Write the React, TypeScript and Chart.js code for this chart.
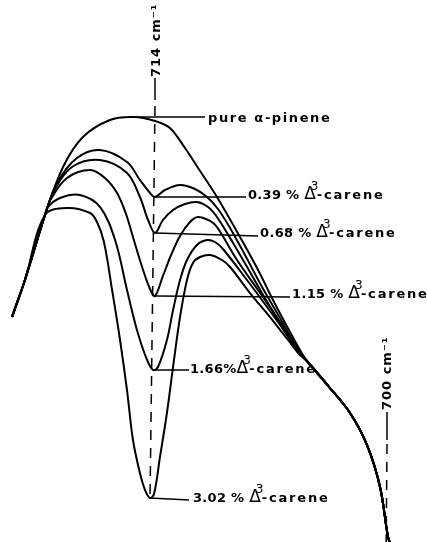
import { useEffect, useRef } from "react";
import { Chart, registerables } from "chart.js";

Chart.register(...registerables);

// x: wavenumber (cm-1), y: transmittance (arbitrary %)
const trunkWn = [722.63, 721.85, 720.64];
const trunkT = [41.51, 48.34, 60.33];
const tailWn = [704.83, 703.44, 702.23, 701.21, 700.42, 699.94, 699.76];
const tailT = [33.39, 28.41, 23.8, 17.9, 10.15, 0.92, -0.55];

const pureWn = [719.55, 718.35, 716.72, 715.33, 714.0, 713.1, 712.19, 711.28, 710.26, 708.87, 707.84, 706.88, 705.85];
const pureT = [69.19, 74.72, 77.86, 78.41, 77.68, 76.38, 72.69, 68.45, 63.65, 56.27, 50.55, 44.65, 38.75];

const c039Wn = [719.91, 718.71, 717.32, 715.69, 714.91, 714.3, 714.0, 713.4, 712.49, 711.59, 710.86, 710.2, 709.47, 708.57, 707.54, 706.46, 705.49];
const c039T = [66.24, 70.85, 72.32, 70.11, 66.79, 64.39, 63.65, 64.94, 65.87, 65.13, 63.65, 61.44, 57.93, 52.95, 47.05, 41.33, 36.16];

const c068Wn = [720.1, 719.01, 717.32, 715.69, 714.91, 714.42, 714.0, 713.52, 712.91, 712.19, 711.47, 710.8, 710.26, 709.29, 708.27, 707.3, 706.28, 705.43];
const c068T = [64.76, 69.19, 70.48, 68.08, 63.65, 59.41, 57.01, 59.41, 61.25, 62.36, 62.73, 61.81, 59.96, 55.17, 49.82, 44.65, 39.48, 35.42];

const c115Wn = [720.28, 719.31, 717.92, 717.02, 716.29, 715.75, 715.33, 714.72, 714.3, 714.0, 713.52, 713.03, 712.49, 711.89, 711.41, 710.68, 710.26, 709.05, 707.66, 706.46, 705.43];
const c115T = [63.28, 67.16, 68.63, 67.16, 64.39, 60.52, 56.27, 50.18, 46.68, 45.39, 49.08, 52.95, 56.46, 59.04, 59.96, 59.23, 58.12, 52.03, 45.94, 40.59, 35.42];

const c166Wn = [720.46, 719.73, 718.53, 717.32, 716.41, 715.69, 715.09, 714.48, 714.12, 713.82, 713.28, 712.91, 712.49, 712.07, 711.47, 710.86, 710.38, 709.9, 708.45, 707.24, 706.16, 705.37];
const c166T = [61.81, 63.47, 64.02, 61.81, 55.72, 46.49, 39.11, 33.58, 31.73, 32.29, 37.27, 42.8, 48.34, 52.03, 54.8, 55.72, 55.35, 54.06, 48.34, 43.36, 38.75, 35.06];

const c302Wn = [719.31, 717.92, 717.5, 717.08, 716.59, 716.11, 715.69, 715.33, 714.91, 714.6, 714.3, 714.06, 713.7, 713.28, 712.91, 712.49, 712.07, 711.71, 711.28, 710.68, 709.96, 709.47, 708.27, 707.06, 705.97, 705.31];
const c302T = [61.62, 60.7, 59.04, 55.35, 46.49, 37.27, 28.04, 18.82, 12.73, 9.59, 8.12, 8.86, 15.68, 23.8, 32.29, 41.51, 48.34, 51.48, 52.58, 52.95, 52.03, 50.74, 45.94, 41.51, 37.27, 34.69];

// leader lines from each curve to its label
const leaderStartWn = [715.33, 714.0, 714.0, 714.0, 714.12, 714.3];
const leaderStartT = [78.41, 63.65, 57.01, 45.39, 31.73, 8.12];
const leaderEndWn = [710.98, 708.51, 707.78, 705.85, 711.95, 711.95];
const leaderEndT = [78.41, 63.65, 56.46, 45.2, 31.73, 7.75];

// labels
const pureLabel = "pure α-pinene";
const pureLabelWn = 710.8;
const pureLabelT = 77.49;
const labelPrefix = ["0.39 % ", "0.68 % ", "1.15 % ", "1.66%", "3.02 % "];
const labelWn = [708.39, 707.66, 705.73, 711.89, 711.71];
const labelT = [63.28, 56.27, 45.02, 31.18, 7.38];

// wavenumber markers
const markerLabels = ["714 cm⁻¹", "700 cm⁻¹"];
const markerLabelWn = [713.9, 699.95];
const markerLabelT = [85.79, 24.35];
const markerSolidWn = [[714.0, 714.0], [700.0, 700.0]];
const markerSolidT = [[85.61, 81.55], [23.99, 18.82]];
const markerDashWn = [[714.0, 714.3], [700.0, 700.05]];
const markerDashT = [[80.44, 8.12], [18.08, 0.0]];

const pts = (wn: number[], t: number[]) => wn.map((x, i) => ({ x, y: t[i] }));
const curvePts = (wn: number[], t: number[]) => [
  ...pts(trunkWn, trunkT),
  ...pts(wn, t),
  ...pts(tailWn, tailT),
];

const FONT = "'DejaVu Sans'";

function drawCarene(ctx: CanvasRenderingContext2D, x: number, y: number, prefix: string) {
  ctx.letterSpacing = "0.3px";
  ctx.font = `bold 13px ${FONT}`;
  ctx.fillText(prefix, x, y);
  let cx = x + ctx.measureText(prefix).width;
  ctx.letterSpacing = "0px";
  ctx.font = `17px ${FONT}`;
  ctx.fillText("Δ", cx, y);
  const tw = ctx.measureText("Δ").width;
  ctx.font = `12px ${FONT}`;
  ctx.fillText("3", cx + tw - 5, y - 9);
  cx += tw + 1;
  ctx.font = `bold 13px ${FONT}`;
  ctx.letterSpacing = "1.8px";
  ctx.fillText("-carene", cx, y);
  ctx.letterSpacing = "0px";
}

const labelPlugin = {
  id: "labels",
  afterDatasetsDraw(chart: any) {
    const ctx: CanvasRenderingContext2D = chart.ctx;
    const xs = chart.scales.x;
    const ys = chart.scales.y;
    ctx.save();
    ctx.fillStyle = "#000";
    ctx.textAlign = "left";
    ctx.textBaseline = "alphabetic";
    ctx.font = `bold 13px ${FONT}`;
    ctx.letterSpacing = "1.6px";
    ctx.fillText(pureLabel, xs.getPixelForValue(pureLabelWn), ys.getPixelForValue(pureLabelT));
    labelPrefix.forEach((p, i) => {
      drawCarene(ctx, xs.getPixelForValue(labelWn[i]), ys.getPixelForValue(labelT[i]), p);
    });
    markerLabels.forEach((m, i) => {
      ctx.save();
      ctx.translate(xs.getPixelForValue(markerLabelWn[i]), ys.getPixelForValue(markerLabelT[i]));
      ctx.rotate(-Math.PI / 2);
      ctx.textBaseline = "middle";
      ctx.font = `bold 13px ${FONT}`;
      ctx.letterSpacing = "1px";
      ctx.fillText(m, 0, 0);
      ctx.restore();
    });
    ctx.restore();
  },
};

export default function App() {
  const ref = useRef<HTMLCanvasElement>(null);
  useEffect(() => {
    if (!ref.current) return;
    const curve = (data: any[]) => ({
      data,
      borderColor: "#000",
      borderWidth: 2,
      pointRadius: 0,
      fill: false,
      tension: 0.35,
    });
    const straight = (data: any[], width: number, dash?: number[]) => ({
      data,
      borderColor: "#000",
      borderWidth: width,
      pointRadius: 0,
      fill: false,
      tension: 0,
      borderDash: dash || [],
    });
    const datasets: any[] = [
      curve(curvePts(pureWn, pureT)),
      curve(curvePts(c039Wn, c039T)),
      curve(curvePts(c068Wn, c068T)),
      curve(curvePts(c115Wn, c115T)),
      curve(curvePts(c166Wn, c166T)),
      curve(curvePts(c302Wn, c302T)),
    ];
    leaderStartWn.forEach((w, i) => {
      datasets.push(
        straight(
          [
            { x: w, y: leaderStartT[i] },
            { x: leaderEndWn[i], y: leaderEndT[i] },
          ],
          1.5
        )
      );
    });
    markerSolidWn.forEach((w, i) => {
      datasets.push(straight(pts(w, markerSolidT[i]), 1.5));
      datasets.push(straight(pts(markerDashWn[i], markerDashT[i]), 1.5, [10, 8]));
    });
    const chart = new Chart(ref.current, {
      type: "line",
      data: { datasets },
      options: {
        animation: false,
        responsive: false,
        devicePixelRatio: 1,
        events: [],
        layout: { padding: 0 },
        plugins: { legend: { display: false }, tooltip: { enabled: false } },
        scales: {
          x: { type: "linear", min: 697.586, max: 723.354, reverse: true, display: false },
          y: { type: "linear", min: 0, max: 100, display: false },
        },
      },
      plugins: [labelPlugin],
    });
    return () => chart.destroy();
  }, []);
  return (
    <div style={{ position: "fixed", left: 0, top: 0, width: 427, height: 542, background: "#fff" }}>
      <canvas ref={ref} width={427} height={542} style={{ display: "block" }} />
    </div>
  );
}
